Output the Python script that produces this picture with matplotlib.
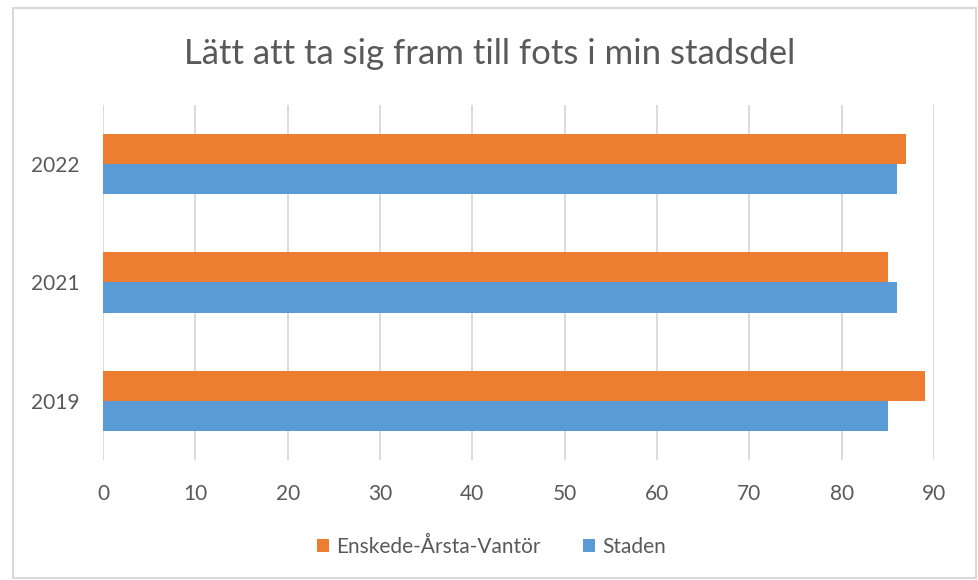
import matplotlib.pyplot as plt
import numpy as np
from matplotlib.patches import Rectangle

years = ["2019", "2021", "2022"]
enskede = [89, 85, 87]
staden = [85, 86, 86]
series_names = ["Enskede-Årsta-Vantör", "Staden"]
colors = ["#ED7D31", "#5B9BD5"]
xticks = list(range(0, 100, 10))

plt.rcParams['font.family'] = ['Lato', 'DejaVu Sans']
text_color = "#595959"
grid_color = "#D9D9D9"


def main():
    fig = plt.figure(figsize=(9.79, 5.8), dpi=100)
    ax = fig.add_axes([0.1052, 0.2069, 0.8488, 0.6121])

    y = np.arange(len(years))
    h = 0.255
    ax.barh(y + h / 2, enskede, height=h, color=colors[0], label=series_names[0], zorder=3)
    ax.barh(y - h / 2, staden, height=h, color=colors[1], label=series_names[1], zorder=3)

    ax.set_xlim(0, 90)
    ax.set_ylim(-0.5, len(years) - 0.5)
    ax.set_xticks(xticks)
    ax.set_yticks(y)
    ax.set_yticklabels(years)
    ax.xaxis.grid(True, color=grid_color, linewidth=1.3, zorder=0)
    for s in ax.spines.values():
        s.set_visible(False)
    ax.tick_params(axis='both', length=0, labelsize=15, labelcolor=text_color)
    ax.tick_params(axis='x', pad=17)
    ax.tick_params(axis='y', pad=17)

    fig.text(0.5, 0.907, "Lätt att ta sig fram till fots i min stadsdel",
             ha='center', va='center', fontsize=25, color=text_color)

    fig.legend(loc='center', bbox_to_anchor=(0.502, 0.057), ncol=2, frameon=False,
               fontsize=15, labelcolor=text_color, handlelength=0.6, handleheight=0.6,
               handletextpad=0.35, columnspacing=2.0)

    fig.patches.append(Rectangle((0.013, 0.003), 0.984, 0.983, transform=fig.transFigure,
                                 fill=False, edgecolor=grid_color, linewidth=1.5))

    fig.savefig("out.png", dpi=100)


if __name__ == '__main__':
    main()
